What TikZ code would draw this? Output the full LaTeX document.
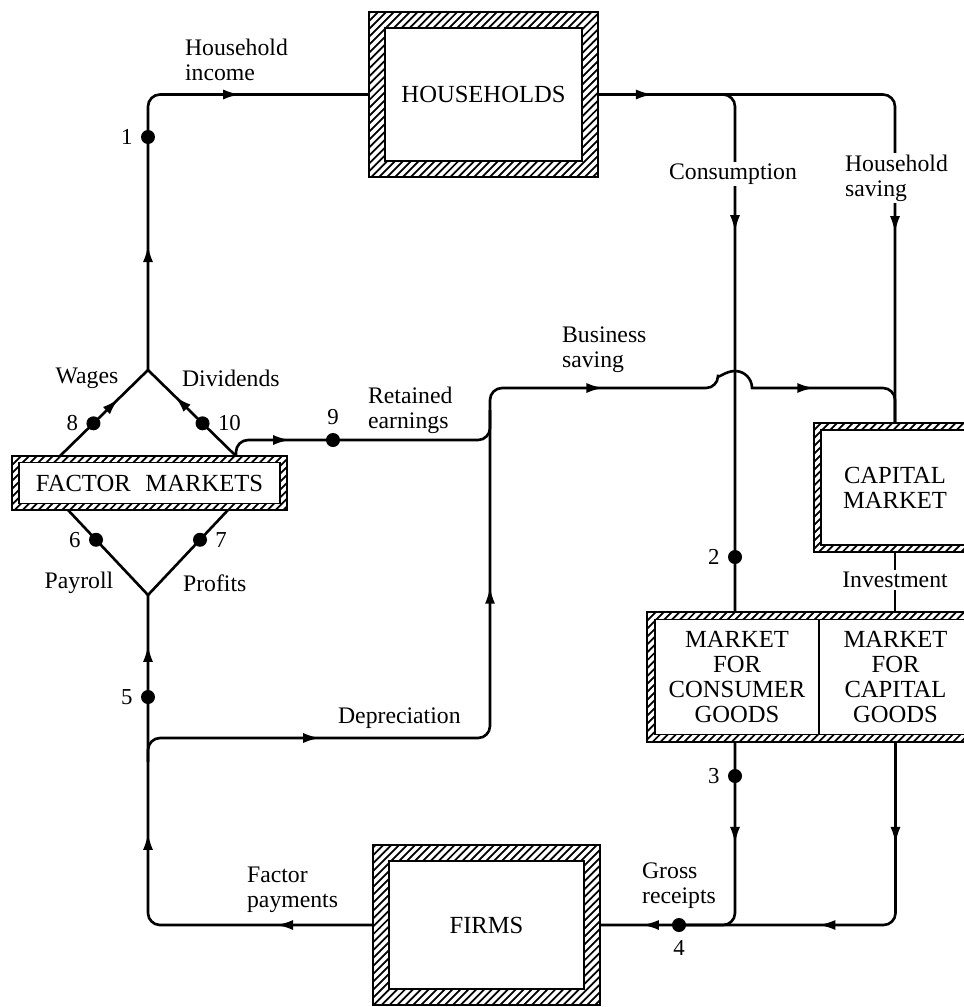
\documentclass[tikz,border=0pt]{standalone}
\usepackage{fontspec}
\setmainfont{Liberation Serif}
\usetikzlibrary{arrows.meta,calc,decorations.markings,patterns}

\pgfdeclarepatternformonly{hatch}{\pgfqpoint{-1pt}{-1pt}}{\pgfqpoint{5.5pt}{5.5pt}}{\pgfqpoint{4.5pt}{4.5pt}}%
{\pgfsetlinewidth{1pt}\pgfpathmoveto{\pgfqpoint{0pt}{0pt}}\pgfpathlineto{\pgfqpoint{4.6pt}{4.6pt}}\pgfusepath{stroke}}

\tikzset{
  flow/.style={line width=1.5pt, rounded corners=2.4mm},
  arr/.style={postaction={decorate, decoration={markings,
      mark=at position #1 with {\arrow{Latex[length=3.4mm,width=2mm]}}}}},
  dot/.style={circle, fill, inner sep=0pt, minimum size=2.8mm},
  num/.style={font=\fontsize{13}{14}\selectfont, inner sep=1pt, label distance=1.2mm},
  lbl/.style={font=\fontsize{13.5}{14.2}\selectfont, align=left, inner sep=1pt},
  frame/.style={draw, line width=1.1pt, pattern=hatch, inner sep=0pt},
  inbox/.style={draw, line width=1.1pt, fill=white, inner sep=0pt, align=center,
      font=\fontsize{14}{14.2}\selectfont},
}

\begin{document}
\begin{tikzpicture}[x=0.2mm, y=-0.2mm]
\useasboundingbox (0,0) rectangle (964,1007);
\clip (0,0) rectangle (964,1007);

% boxes
\node[frame, minimum width=45.8mm, minimum height=33mm] (hh) at (483.5,94.5) {};
\node[inbox, minimum width=39.4mm, minimum height=26.6mm] (hhtxt) at (hh) {HOUSEHOLDS};

\node[frame, minimum width=45.4mm, minimum height=32mm] (firms) at (486.5,925) {};
\node[inbox, minimum width=39mm, minimum height=25.6mm] (firmstxt) at (firms) {FIRMS};

\node[frame, minimum width=55mm, minimum height=10.8mm] (fm) at (149.5,483) {};
\node[inbox, minimum width=52.2mm, minimum height=8.2mm] (fmtxt) at (fm) {FACTOR\hspace{0.6em}MARKETS};

\node[frame, minimum width=32.4mm, minimum height=25.8mm] (cm) at (895,487.5) {};
\node[inbox, minimum width=29.6mm, minimum height=23mm] (cmtxt) at (cm) {CAPITAL\\MARKET};

\node[frame, minimum width=66.6mm, minimum height=26mm] (mk) at (813.5,677) {};
\node[inbox, minimum width=32.8mm, minimum height=23mm] (cons) at (737,677) {MARKET\\FOR\\CONSUMER\\GOODS};
\node[inbox, minimum width=30.6mm, minimum height=23mm] (cg) at (895.5,677) {MARKET\\FOR\\CAPITAL\\GOODS};

% junctions
\coordinate (topApex) at (148,370);
\coordinate (botApex) at (148,595);
\coordinate (fmTL) at (60,456);
\coordinate (fmTR) at (236,456);
\coordinate (fmBL) at (68,510);
\coordinate (fmBR) at (228,510);
\coordinate (depStart) at (148,762);
\coordinate (depR) at (490,738);
\coordinate (bump) at (735,388);
\coordinate (reJ) at (490,440);
\coordinate (reUp) at (490,410);
\coordinate (cs) at (700,94.5);

% numbered points
\node[dot, label={[num]left:1}] (d1) at (148,137) {};
\node[dot, label={[num]left:2}] (d2) at (735,557) {};
\node[dot, label={[num]left:3}] (d3) at (735,776) {};
\node[dot, label={[num]below:4}] (d4) at (679,925) {};
\node[dot, label={[num]left:5}] (d5) at (148,697) {};
\node[dot, label={[num]left:6}] (d6) at ($(botApex)!0.65!(fmBL)$) {};
\node[dot, label={[num]right:7}] (d7) at ($(botApex)!0.65!(fmBR)$) {};
\node[dot, label={[num]left:8}] (d8) at ($(fmTL)!0.38!(topApex)$) {};
\node[dot, label={[num]above:9}] (d9) at (333,440) {};
\node[dot, label={[num]right:10}] (d10) at ($(fmTR)!0.38!(topApex)$) {};

% flows
\draw[flow, arr=25mm, arr=72.5mm] (topApex) -- (d1.center) |- (hh);
\draw[flow, arr=16.4mm] (fmTL) -- (d8.center) -- (topApex);
\draw[flow, arr=17.1mm] (fmTR) -- (d10.center) -- (topApex);
\draw[flow] (botApex) -- (d6.center) -- (fmBL);
\draw[flow] (botApex) -- (d7.center) -- (fmBR);
\draw[flow, arr=19.2mm, arr=62.2mm, arr=99.8mm] (firms) -| (d5.center) -- (botApex);
\draw[flow, arr=13mm] (fmTR) |- (d9.center) -- (reJ) -- (reUp);
\draw[flow, arr=38.2mm, arr=101.4mm, arr=162.8mm, arr=208.5mm] (depStart) |- (depR)
  |- ($(bump)+(-17,0)$) [sharp corners] arc[start angle=180, end angle=0, radius=3.4mm]
  [rounded corners=2.4mm] -| (cm);
\draw[flow, arr=10.8mm, arr=85.9mm] (hh) -| (cm);
\draw[flow, arr=33.5mm] (cs) -| (d2.center) -- (d2 |- mk.north);
\draw[flow] (cm) -- (cm |- mk.north);
\draw[flow, arr=20.2mm, arr=54mm] (mk.south -| d3) -- (d3.center) |- (d4.center) -- (firms);
\draw[flow, arr=20.2mm, arr=50.8mm] (mk.south -| cg) |- (d4.center);

% labels
\node[lbl, anchor=west] (hinc) at (183,60) {Household\\income};
\node[lbl] (wages) at (87,378) {Wages};
\node[lbl, anchor=west] (divid) at (180,378) {Dividends};
\node[lbl, anchor=west] (reten) at (366,410) {Retained\\earnings};
\node[lbl] (payroll) at (79,583) {Payroll};
\node[lbl, anchor=west] (profits) at (181,583) {Profits};
\node[lbl, anchor=west] (deprec) at (336,718) {Depreciation};
\node[lbl, anchor=west] (factpay) at (245,890) {Factor\\payments};
\node[lbl, anchor=west] (gross) at (640,886) {Gross\\receipts};
\node[lbl, anchor=west] (bsav) at (560,350) {Business\\saving};
\node[lbl, fill=white] (consum) at (733,174) {Consumption};
\node[lbl, fill=white, anchor=west] (hsav) at (843,178) {Household\\saving};
\node[lbl, fill=white] (invest) at (895,580) {Investment};
\end{tikzpicture}
\end{document}
